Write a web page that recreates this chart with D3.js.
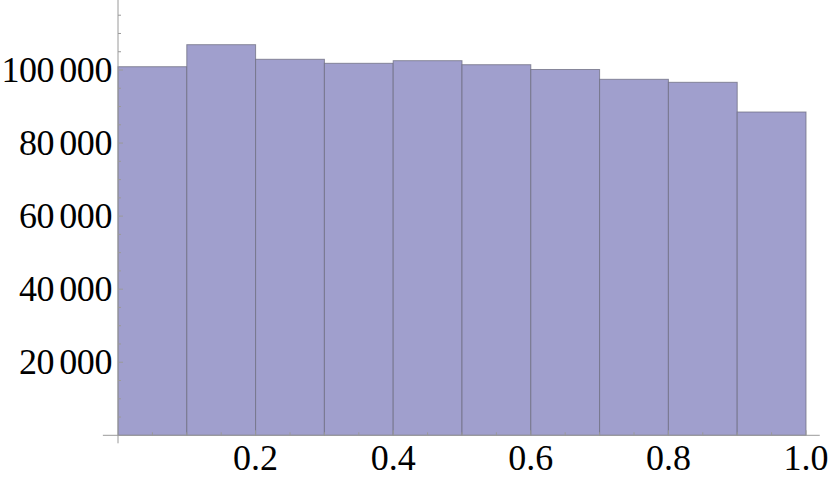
<!DOCTYPE html>
<html>
<head>
<meta charset="utf-8">
<script src="https://cdn.jsdelivr.net/npm/d3@7"></script>
<style>
  html, body { margin: 0; padding: 0; background: #fff; }
  svg { display: block; }
  text { font-family: "Liberation Serif", "Times New Roman", serif; fill: #000; }
</style>
</head>
<body>
<svg id="chart" width="830" height="479"></svg>
<script>
// Histogram bins (left edges) and counts
const binStarts = [0.0, 0.1, 0.2, 0.3, 0.4, 0.5, 0.6, 0.7, 0.8, 0.9];
const binWidth = 0.1;
const counts = [100900, 106930, 102930, 101830, 102550, 101450, 100140, 97450, 96630, 88500];
const xTickLabels = [0.2, 0.4, 0.6, 0.8, 1.0];
const yTickLabels = [20000, 40000, 60000, 80000, 100000];

const svg = d3.select("#chart");

const x = d3.scaleLinear().domain([0, 1]).range([118, 806]);
const y = d3.scaleLinear().domain([0, 100000]).range([435.3, 70]);

const axisColor = "#9a9a9a";

// Bars
svg.append("g")
  .selectAll("rect")
  .data(binStarts)
  .join("rect")
  .attr("x", (d) => x(d))
  .attr("width", (d) => x(d + binWidth) - x(d))
  .attr("y", (d, i) => y(counts[i]))
  .attr("height", (d, i) => y(0) - y(counts[i]))
  .attr("fill", "#a09fcd")
  .attr("stroke", "#6e6e80")
  .attr("stroke-opacity", 0.75)
  .attr("stroke-width", 1);

// Axis lines
svg.append("line")
  .attr("x1", x(-0.022)).attr("x2", x(1.02))
  .attr("y1", y(0)).attr("y2", y(0))
  .attr("stroke", axisColor).attr("stroke-width", 1);
svg.append("line")
  .attr("x1", x(0)).attr("x2", x(0))
  .attr("y1", y(0) + 8).attr("y2", 0)
  .attr("stroke", axisColor).attr("stroke-width", 1);

// X ticks (inside, upward)
const xMinor = d3.range(1, 21).map((i) => i * 0.05);
svg.append("g")
  .selectAll("line")
  .data(xMinor)
  .join("line")
  .attr("x1", (d) => x(d)).attr("x2", (d) => x(d))
  .attr("y1", y(0))
  .attr("y2", (d) => y(0) - (Math.abs(d * 5 - Math.round(d * 5)) < 1e-9 ? 5 : 3))
  .attr("stroke", axisColor).attr("stroke-width", 1);

// Y ticks (inside, rightward)
const yMinor = d3.range(1, 24).map((i) => i * 5000);
svg.append("g")
  .selectAll("line")
  .data(yMinor)
  .join("line")
  .attr("x1", x(0))
  .attr("x2", (d) => x(0) + (d % 20000 === 0 ? 5 : 3))
  .attr("y1", (d) => y(d)).attr("y2", (d) => y(d))
  .attr("stroke", axisColor).attr("stroke-width", 1);

// X labels
svg.append("g")
  .selectAll("text")
  .data(xTickLabels)
  .join("text")
  .attr("x", (d) => x(d))
  .attr("y", 470)
  .attr("text-anchor", "middle")
  .attr("font-size", 36)
  .text((d) => d.toFixed(1));

// Y labels: thousands group separated by a small gap
const yLabels = svg.append("g")
  .selectAll("text")
  .data(yTickLabels)
  .join("text")
  .attr("x", 112)
  .attr("y", (d) => y(d))
  .attr("dy", "0.34em")
  .attr("text-anchor", "end")
  .attr("font-size", 36)
  .attr("letter-spacing", "-0.4px");
yLabels.append("tspan").text((d) => String(d).slice(0, -3));
yLabels.append("tspan").attr("dx", 5).text((d) => String(d).slice(-3));
</script>
</body>
</html>
